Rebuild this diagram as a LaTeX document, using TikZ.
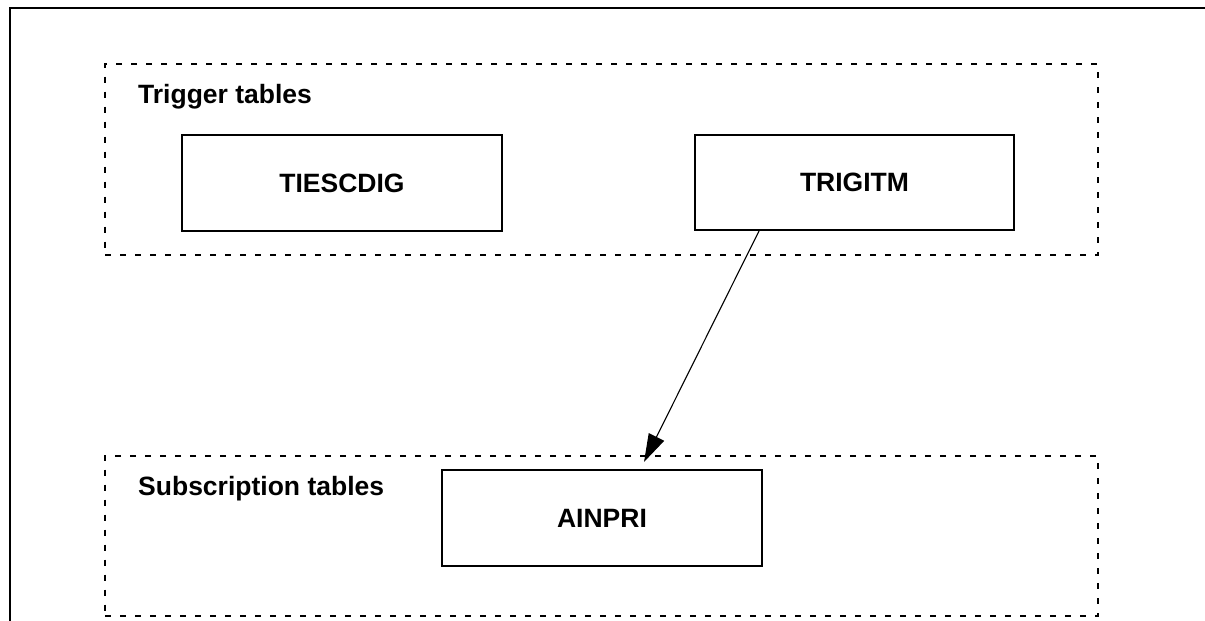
\documentclass[tikz,border=0pt]{standalone}
\usepackage{fontspec}
\setmainfont{Liberation Sans}
\usetikzlibrary{arrows.meta}
\tikzset{
  table/.style={draw, line width=2pt, minimum width=320pt, minimum height=96pt,
    inner sep=0pt, font=\fontsize{26.5}{30}\selectfont\bfseries},
  group/.style={draw, line width=2pt, dash pattern=on 6pt off 9pt, inner sep=0pt},
  grouplabel/.style={anchor=base west, inner sep=0pt, font=\fontsize{26.5}{30}\selectfont\bfseries},
  link/.style={line width=1.1pt, -{Triangle[length=28pt,width=17pt]}},
  frame/.style={line width=2.4pt}
}
\begin{document}
\begin{tikzpicture}[x=1pt, y=-1pt]
  \useasboundingbox (0,0) rectangle (1205,621);
  % outer frame
  \coordinate (fbl) at (10,625);
  \coordinate (ftl) at (10,8);
  \coordinate (ftr) at (1210,8);
  \draw[frame] (fbl) -- (ftl) -- (ftr);

  % groups
  \node[group, minimum width=993pt, minimum height=191pt] (trigger) at (601.5,159) {};
  \node[group, minimum width=993pt, minimum height=160pt] (subscr) at (601.5,535.5) {};
  \node[grouplabel] (triglbl) at (138,103) {Trigger tables};
  \node[grouplabel] (sublbl) at (138,495) {Subscription tables};

  % tables
  \node[table] (ties) at (342,183) {TIESCDIG};
  \node[table, minimum width=319pt, minimum height=95pt] (trig) at (854.5,182.5) {TRIGITM};
  \node[table] (ain) at (602,518) {AINPRI};

  % relation
  \draw[link] ([xshift=-95.5pt]trig.south) -- ([xshift=42pt,yshift=7pt]ain.north);
\end{tikzpicture}
\end{document}
